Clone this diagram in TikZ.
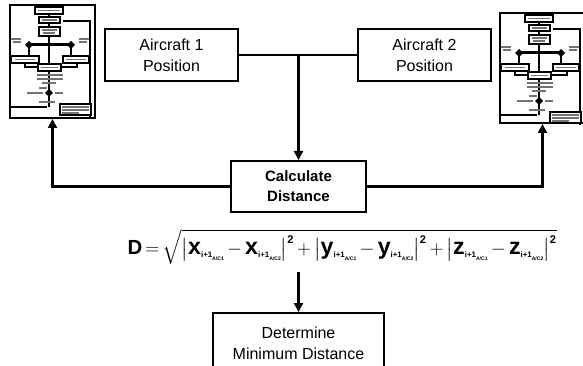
\documentclass[tikz,border=0pt]{standalone}
\usepackage{fontspec}
\usepackage{amsmath}
\usepackage{graphicx}
\setmainfont{Liberation Sans}
\usetikzlibrary{arrows.meta}
\newcommand\fterm[2]{\hbox{\fontsize{25}{25}\selectfont\bfseries #1\raisebox{-3.5pt}{\fontsize{8.5}{8.5}\selectfont i+1}\raisebox{-6.5pt}{\fontsize{5.5}{5.5}\selectfont\bfseries A/C#2}}}
\newcommand\fsq{^{\hbox{\fontsize{12}{12}\selectfont\bfseries 2}}}
\newcommand\fbar[2]{\left|\rule[-5pt]{0pt}{20pt}#1-#2\right|\fsq}
\tikzset{
  box/.style={draw,line width=2pt,align=center,inner sep=0pt,font=\fontsize{16}{21}\selectfont},
  boldbox/.style={box,font=\bfseries\fontsize{15}{20}\selectfont},
  conn/.style={line width=3pt},
  thinconn/.style={line width=1.3pt},
  uptip/.style={-{Triangle[width=9pt,length=9pt]}},
  frame/.style={draw,line width=2pt,inner sep=0pt},
  txt/.style={draw=black!55,line width=1.3pt},
  flow/.pic={
    \begin{scope}[yscale=-1,line width=1.5pt]
      \draw[line width=2.5pt] (54,17)--(81,17)--(81,113);
      \draw (40,10)--(40,103);
      \draw[line width=1.8pt,fill=white] (26,3) rectangle (54,10);
      \draw[line width=1.8pt,fill=white] (30,13) rectangle (51,19);
      \draw[line width=1.8pt,fill=white] (30,23) rectangle (51,32);
      \draw[line width=3pt] (20,41)--(62,41);
      \draw (20,41)--(20,52) (62,41)--(62,52);
      \fill (20,37)--(24,41)--(20,45)--(16,41)--cycle;
      \fill (62,37)--(66,41)--(62,45)--(58,41)--cycle;
      \draw[line width=1.8pt,fill=white] (2,52) rectangle (30,59);
      \draw[line width=1.8pt,fill=white] (54,52) rectangle (80,59);
      \draw (16,59)--(16,63)--(29,63) (68,59)--(68,63)--(52,63);
      \draw[line width=1.8pt,fill=white] (29,60) rectangle (52,67);
      \draw (0,103)--(38,103);
      \fill (40,85)--(44,89)--(40,93)--(36,89)--cycle;
      \draw[line width=1.8pt,fill=white] (51,100) rectangle (82,111);
      \draw[txt] (29,6.5)--(51,6.5) (33,16)--(48,16) (33,26)--(48,26) (34,29)--(46,29)
        (2,35)--(12,35) (4,38)--(12,38) (70,35)--(80,35) (70,38)--(78,38)
        (6,55.5)--(26,55.5) (57,55.5)--(77,55.5) (32,63.5)--(49,63.5)
        (28,71)--(54,71) (28,75)--(54,75) (33,79)--(47,79) (30,84)--(38,84)
        (18,89)--(34,89) (46,89)--(54,89) (30,98)--(46,98)
        (53,103)--(80,103) (53,106)--(80,106) (53,109)--(70,109);
    \end{scope}
  }
}
\begin{document}
\begin{tikzpicture}[x=1pt,y=1pt]
\useasboundingbox (0,0) rectangle (583,-366);
\clip (0,0) rectangle (583,-366);
\node[box,minimum width=133,minimum height=52] (a1) at (171.5,-55) {Aircraft 1\\Position};
\node[box,minimum width=133,minimum height=52] (a2) at (424.5,-55) {Aircraft 2\\Position};
\node[boldbox,minimum width=135,minimum height=51] (calc) at (298.5,-186.5) {Calculate\\Distance};
\node[box,minimum width=171,minimum height=60] (det) at (298.5,-343) {Determine\\Minimum Distance};
\node[inner sep=0pt] (form) at (342,-247) {\resizebox{429pt}{!}{\fontsize{20}{24}\selectfont\medmuskip=3mu\thickmuskip=3mu$\hbox{\fontsize{22}{22}\selectfont\bfseries D}=\sqrt{\fbar{\fterm{x}{1}}{\fterm{x}{2}}+\fbar{\fterm{y}{1}}{\fterm{y}{2}}+\fbar{\fterm{z}{1}}{\fterm{z}{2}}}$}};
\node[frame,minimum width=85,minimum height=113] (tl) at (52.5,-61.5) {};
\node[frame,minimum width=85,minimum height=110] (tr) at (542.5,-68) {};
\pic at (tl.north west) {flow};
\pic at (tr.north west) {flow};
\draw[thinconn] (a1) -- (a2);
\coordinate (j) at (calc.north |- a1.east);
\draw[conn,uptip] (j) -- (calc.north);
\draw[conn,uptip] (calc.west) -| (tl.south);
\draw[conn,uptip] (calc.east) -| (tr.south);
\coordinate (f) at (298.5,-272);
\draw[conn,uptip] (f) -- (det.north);
\end{tikzpicture}
\end{document}
